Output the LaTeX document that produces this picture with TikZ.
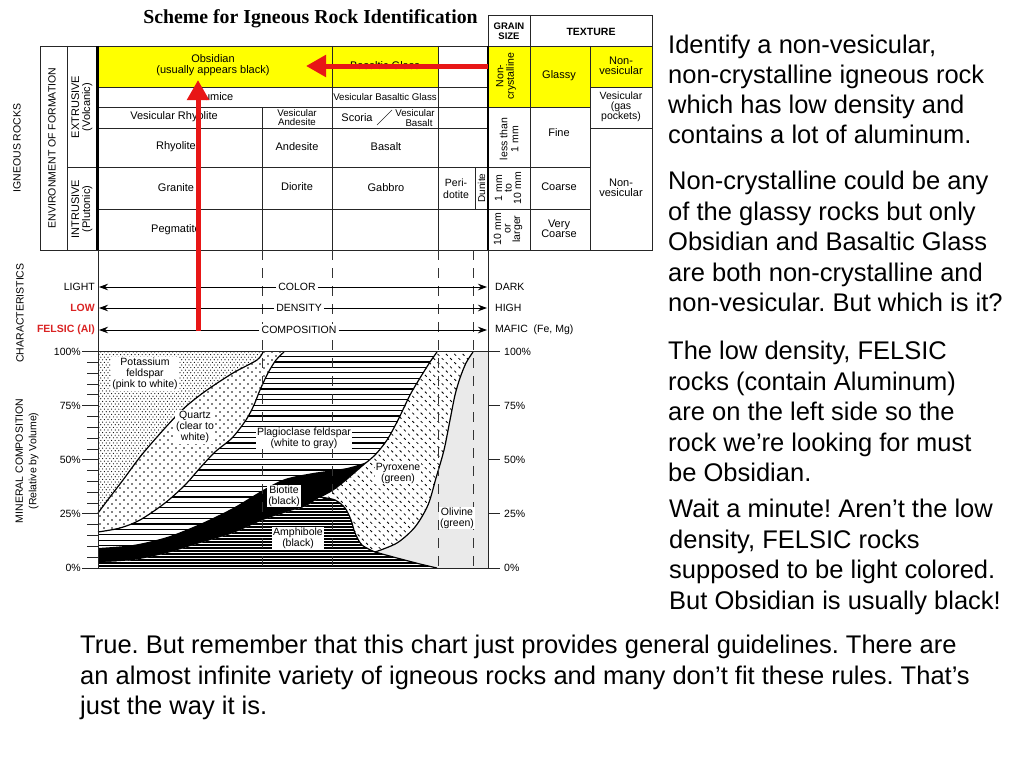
\documentclass[tikz,border=0pt]{standalone}
\usepackage{fontspec}
\setmainfont{Liberation Sans}
\newfontfamily\titlefont{Liberation Serif}
\usetikzlibrary{arrows.meta,patterns}

\definecolor{hlyellow}{RGB}{255,255,0}
\definecolor{arrred}{RGB}{232,22,22}
\definecolor{txtred}{RGB}{218,35,35}
\definecolor{olgray}{RGB}{234,234,234}

\pgfdeclarepatternformonly{kdots}{\pgfqpoint{-1pt}{-1pt}}{\pgfqpoint{4.6pt}{6.2pt}}{\pgfqpoint{3.6pt}{5.2pt}}{%
  \pgfpathcircle{\pgfqpoint{0pt}{0pt}}{0.6pt}%
  \pgfpathcircle{\pgfqpoint{1.8pt}{2.6pt}}{0.6pt}%
  \pgfusepath{fill}}
\pgfdeclarepatternformonly{qdots}{\pgfqpoint{-1pt}{-1pt}}{\pgfqpoint{9pt}{9pt}}{\pgfqpoint{8pt}{8pt}}{%
  \pgfpathcircle{\pgfqpoint{0pt}{0pt}}{0.8pt}%
  \pgfpathcircle{\pgfqpoint{4pt}{4pt}}{0.8pt}%
  \pgfusepath{fill}}
\pgfdeclarepatternformonly{plaglines}{\pgfqpoint{-0.5pt}{-0.5pt}}{\pgfqpoint{4.5pt}{5.9pt}}{\pgfqpoint{4pt}{5.4pt}}{%
  \pgfsetlinewidth{1.3pt}%
  \pgfpathmoveto{\pgfqpoint{-0.5pt}{1pt}}\pgfpathlineto{\pgfqpoint{4.5pt}{1pt}}%
  \pgfusepath{stroke}}
\pgfdeclarepatternformonly{amphlines}{\pgfqpoint{-0.5pt}{-0.5pt}}{\pgfqpoint{4.5pt}{3.5pt}}{\pgfqpoint{4pt}{3pt}}{%
  \pgfsetlinewidth{1.1pt}%
  \pgfpathmoveto{\pgfqpoint{-0.5pt}{1pt}}\pgfpathlineto{\pgfqpoint{4.5pt}{1pt}}%
  \pgfusepath{stroke}}
\pgfdeclarepatternformonly{pyrticks}{\pgfqpoint{-0.5pt}{-0.5pt}}{\pgfqpoint{9pt}{9pt}}{\pgfqpoint{8.4pt}{8.4pt}}{%
  \pgfsetlinewidth{0.8pt}%
  \pgfpathmoveto{\pgfqpoint{0.7pt}{2.5pt}}\pgfpathlineto{\pgfqpoint{2.5pt}{0.7pt}}%
  \pgfpathmoveto{\pgfqpoint{4.9pt}{6.7pt}}\pgfpathlineto{\pgfqpoint{6.7pt}{4.9pt}}%
  \pgfusepath{stroke}}

\begin{document}
\frenchspacing
\begin{tikzpicture}[x=1pt,y=-1pt,
  tline/.style={draw=black!85, line width=0.8pt},
  thickline/.style={draw=black, line width=2.6pt},
  cell/.style={font=\fontsize{11}{10.5}\selectfont, align=center, inner sep=0pt},
  smallcell/.style={font=\fontsize{9.7}{9.5}\selectfont, align=center, inner sep=0pt},
  hdr/.style={font=\bfseries\fontsize{9.5}{10}\selectfont, align=center, inner sep=0pt},
  sidelbl/.style={font=\fontsize{10.5}{11.5}\selectfont, align=center, inner sep=0pt, rotate=90},
  chl/.style={font=\fontsize{10.5}{11}\selectfont, fill=white, inner sep=2pt},
  chside/.style={font=\fontsize{10.5}{11}\selectfont, inner sep=0pt},
  redlbl/.style={font=\bfseries\fontsize{10.5}{11}\selectfont, text=txtred, inner sep=0pt},
  charr/.style={draw=black, line width=0.8pt, -{Stealth[length=9pt,width=6.5pt]}},
  redarr/.style={draw=arrred, line width=5pt, -{Triangle[length=20pt,width=21pt]}},
  dashl/.style={draw=black!80, line width=0.7pt, dash pattern=on 10pt off 8pt},
  bnd/.style={draw=black, line width=1.2pt},
  minlbl/.style={fill=white, inner sep=1pt, font=\fontsize{10.5}{11}\selectfont, align=center},
  pct/.style={font=\fontsize{10.5}{11}\selectfont, inner sep=0pt},
  body/.style={font=\fontsize{25.5}{30}\selectfont, anchor=base west, inner sep=0pt}]

\useasboundingbox (0,0) rectangle (1024,768);
\fill[white] (0,0) rectangle (1024,768);

% ---------- title ----------
\node[font={\titlefont\bfseries\fontsize{19.8}{22}\selectfont}, anchor=base, inner sep=0pt] (title) at (310.5,23.5) {Scheme for Igneous Rock Identification};

% ---------- table fills ----------
\fill[hlyellow] (97,46) rectangle (438,87);
\fill[hlyellow] (488,46) rectangle (590,107);
\fill[hlyellow] (590,46) rectangle (652,87);

% ---------- table lines ----------
\draw[tline] (40,46) rectangle (652,250);
\draw[tline] (488,15) rectangle (652,46);
\draw[tline] (530,15) -- (530,250);
\draw[tline] (590,46) -- (590,250);
\draw[tline] (67,46) -- (67,250);
\draw[tline] (67,167) -- (97,167);
\foreach \yy in {87,107,128,167,209} \draw[tline] (97,\yy) -- (488,\yy);
\foreach \yy in {107,167,209} \draw[tline] (488,\yy) -- (590,\yy);
\foreach \yy in {87,128} \draw[tline] (590,\yy) -- (652,\yy);
\draw[tline] (262,107) -- (262,250);
\draw[tline] (332,46) -- (332,250);
\draw[tline] (438,46) -- (438,250);
\draw[tline] (475,167) -- (475,209);
\draw[tline, line width=0.6pt] (377,125) -- (392,110);

% ---------- left labels ----------
\node[sidelbl] (igr) at (17,148) {IGNEOUS ROCKS};
\node[sidelbl] (env) at (52,148) {ENVIRONMENT OF FORMATION};
\node[sidelbl, font=\fontsize{11}{11}\selectfont] (ext) at (82,107) {EXTRUSIVE\\(Volcanic)};
\node[sidelbl, font=\fontsize{11}{11}\selectfont] (intr) at (82,209) {INTRUSIVE\\(Plutonic)};

% ---------- table cells ----------
\node[cell] (obs) at (213,65) {Obsidian\\(usually appears black)};
\node[cell] (bgl) at (385,66) {Basaltic Glass};
\node[cell] (pum) at (215,97) {Pumice};
\node[smallcell] (vbg) at (385,97) {Vesicular Basaltic Glass};
\node[cell] (vrh) at (174,117) {Vesicular Rhyolite};
\node[smallcell] (van) at (297,117.5) {Vesicular\\Andesite};
\node[cell] (sco) at (357,118) {Scoria};
\node[smallcell] (vba) at (415,118) {Vesicular\\\hspace*{8pt}Basalt};
\node[cell] (rhy) at (176,147) {Rhyolite};
\node[cell] (and) at (297,147) {Andesite};
\node[cell] (bas) at (386,147) {Basalt};
\node[cell] (gra) at (176,188) {Granite};
\node[cell] (dio) at (297,187) {Diorite};
\node[cell] (gab) at (386,188) {Gabbro};
\node[cell, font=\fontsize{10.5}{12}\selectfont] (per) at (456,189) {Peri-\\dotite};
\node[cell, rotate=90, font=\fontsize{10}{10}\selectfont] (dun) at (481.5,188) {Dunite};
\node[cell] (peg) at (176,230) {Pegmatite};

\node[hdr] (gsz) at (509,31) {GRAIN\\SIZE};
\node[hdr, font=\bfseries\fontsize{10.5}{10}\selectfont] (tex) at (591,31.5) {TEXTURE};
\node[cell, rotate=90, font=\fontsize{10.5}{10.5}\selectfont] (ncr) at (506,76) {Non-\\crystalline};
\node[cell] (gla) at (559,76) {Glassy};
\node[cell] (nv1) at (621,66) {Non-\\vesicular};
\node[cell, font=\fontsize{10.5}{10}\selectfont] (ves) at (621,107) {Vesicular\\(gas\\pockets)};
\node[cell, rotate=90, font=\fontsize{10.5}{11}\selectfont] (lt1) at (509,139) {less than\\1 mm};
\node[cell] (fin) at (559,133) {Fine};
\node[cell, rotate=90, font=\fontsize{10.5}{9.5}\selectfont] (g110) at (508,188) {1 mm\\to\\10 mm};
\node[cell] (coa) at (559,187) {Coarse};
\node[cell] (nv2) at (621,188) {Non-\\vesicular};
\node[cell, rotate=90, font=\fontsize{10.5}{9.5}\selectfont] (g10) at (508,229) {10 mm\\or\\larger};
\node[cell] (vco) at (559,229) {Very\\Coarse};

% ---------- mineral composition chart ----------
% plagioclase base
\fill[white] (98,351.5) rectangle (488,568);
\fill[pattern=plaglines] (98,351.5) rectangle (488,568);
% amphibole
\path[preaction={fill=white}, pattern=amphlines]
  plot[smooth] coordinates {(98,562) (133,560) (167,553) (200,543) (233,533) (263,520) (290,511) (306,506) (320,497)}
  -- plot[smooth] coordinates {(320,497) (335,500) (345,508) (351,520) (355,533) (362,545) (375,552)}
  -- plot[smooth] coordinates {(375,552) (397,558) (420,564) (437,568)}
  -- (98,568) -- cycle;
% biotite
\fill[black]
  plot[smooth] coordinates {(98,548) (133,545) (167,537) (200,524) (233,508) (263,490) (285,479) (313,473) (347,468) (370,461)}
  -- (326,500)
  -- plot[smooth] coordinates {(320,497) (306,506) (290,511) (263,520) (233,533) (200,543) (167,553) (133,560) (98,562)}
  -- cycle;
% olivine
\fill[olgray] (473,351.5) -- (488,351.5) -- (488,568) -- (437,568)
  -- plot[smooth] coordinates {(437,568) (420,564) (397,558) (375,552)}
  -- plot[smooth] coordinates {(375,552) (397,543) (415,527) (428,505) (436,478) (444,450) (450,420) (455,395) (460,378) (466,363) (473,352)}
  -- cycle;
% pyroxene
\path[preaction={fill=white}, pattern=pyrticks] (437,351.5) -- (473,351.5)
  -- plot[smooth] coordinates {(473,352) (466,363) (460,378) (455,395) (450,420) (444,450) (436,478) (428,505) (415,527) (397,543) (375,552)}
  -- plot[smooth] coordinates {(375,552) (362,545) (355,533) (351,520) (345,508) (335,500) (320,497)}
  -- plot[smooth] coordinates {(320,497) (333,490) (347,479) (362,466) (375,455) (387,440) (398,420) (410,395) (420,378) (430,362) (437,352)}
  -- cycle;
% quartz
\path[preaction={fill=white}, pattern=qdots] (98,351.5) -- (284,351.5)
  -- plot[smooth] coordinates {(284,352) (276,360) (268,373) (260,390) (254,405) (246,420) (232,438) (215,452) (200,468) (185,485) (165,503) (140,520) (120,528) (98,532)}
  -- cycle;
% potassium feldspar
\path[preaction={fill=white}, pattern=kdots] (98,351.5) -- (263,351.5)
  -- plot[smooth] coordinates {(263,352) (257,360) (233,373) (207,390) (190,403) (177,415) (157,437) (140,457) (123,480) (110,497) (98,513)}
  -- cycle;

% boundaries
\draw[bnd] plot[smooth] coordinates {(263,352) (257,360) (233,373) (207,390) (190,403) (177,415) (157,437) (140,457) (123,480) (110,497) (98,513)};
\draw[bnd] plot[smooth] coordinates {(284,352) (276,360) (268,373) (260,390) (254,405) (246,420) (232,438) (215,452) (200,468) (185,485) (165,503) (140,520) (120,528) (98,532)};
\draw[bnd] plot[smooth] coordinates {(473,352) (466,363) (460,378) (455,395) (450,420) (444,450) (436,478) (428,505) (415,527) (397,543) (375,552)};
\draw[bnd] plot[smooth] coordinates {(375,552) (362,545) (355,533) (351,520) (345,508) (335,500) (320,497)};
\draw[bnd] plot[smooth] coordinates {(320,497) (333,490) (347,479) (362,466) (375,455) (387,440) (398,420) (410,395) (420,378) (430,362) (437,352)};
\draw[bnd] plot[smooth] coordinates {(375,552) (397,558) (420,564) (437,568)};

% dashed guide lines
\foreach \xx in {262,332,438,473} \draw[dashl] (\xx,250) -- (\xx,568);

% frame lines
\draw[thickline] (97.5,46) -- (97.5,250);
\draw[thickline] (488,46) -- (488,250);
\draw[tline] (98,250) -- (98,568);
\draw[tline] (488,250) -- (488,568);
\draw[tline] (98,351.5) -- (488,351.5);
\draw[tline] (98,568) -- (488,568);

% ticks
\foreach \k in {0,...,20} \draw[tline] (87,{351.5+\k*10.825}) -- (98,{351.5+\k*10.825});
\foreach \k/\p in {0/100,1/75,2/50,3/25,4/0} {
  \draw[tline] (82,{351.5+\k*54.125}) -- (98,{351.5+\k*54.125});
  \draw[tline] (488,{351.5+\k*54.125}) -- (500,{351.5+\k*54.125});
  \node[pct, anchor=east] (pl\k) at (81,{351.5+\k*54.125}) {\p\%};
  \node[pct, anchor=west] (pr\k) at (504,{351.5+\k*54.125}) {\p\%};
}

% mineral labels
\node[minlbl] (kfs) at (145,374) {Potassium\\feldspar\\(pink to white)};
\node[minlbl] (qtz) at (195,427) {Quartz\\(clear to\\white)};
\node[minlbl] (plg) at (304,438) {Plagioclase feldspar\\(white to gray)};
\node[minlbl] (bio) at (284,496) {Biotite\\(black)};
\node[minlbl] (amp) at (298,538) {Amphibole\\(black)};
\node[minlbl] (pyr) at (398,473) {Pyroxene\\(green)};
\node[minlbl] (oli) at (457,518) {Olivine\\(green)};

\node[sidelbl] (chr) at (20,313) {CHARACTERISTICS};
\node[sidelbl, font=\fontsize{10.5}{13.5}\selectfont] (mcl) at (27,461) {MINERAL COMPOSITION\\(Relative by Volume)};

% ---------- characteristics ----------
\node[chl] (ccol) at (297,287) {COLOR};
\node[chl] (cden) at (299,308) {DENSITY};
\node[chl] (ccom) at (299,330) {COMPOSITION};
\coordinate (ccolL) at (99,287); \coordinate (ccolR) at (487,287);
\coordinate (cdenL) at (99,308); \coordinate (cdenR) at (487,308);
\coordinate (ccomL) at (99,330); \coordinate (ccomR) at (487,330);
\draw[charr] (ccol.west) -- (ccolL);
\draw[charr] (ccol.east) -- (ccolR);
\draw[charr] (cden.west) -- (cdenL);
\draw[charr] (cden.east) -- (cdenR);
\draw[charr] (ccom.west) -- (ccomL);
\draw[charr] (ccom.east) -- (ccomR);
\node[chside, anchor=east] (light) at (95,287) {LIGHT};
\node[redlbl, anchor=east] (low) at (95,308) {LOW};
\node[redlbl, anchor=east] (fel) at (95,330) {FELSIC (Al)};
\node[chside, anchor=west] (dark) at (495,287) {DARK};
\node[chside, anchor=west] (high) at (495,308) {HIGH};
\node[chside, anchor=west] (maf) at (495,330) {MAFIC\ \ (Fe, Mg)};

% ---------- red arrows ----------
\coordinate (va0) at (198,331);
\coordinate (va1) at (198,80);
\coordinate (ha0) at (488,66);
\coordinate (ha1) at (306,66);
\draw[redarr] (va0) -- (va1);
\draw[redarr] (ha0) -- (ha1);

% ---------- right-hand text ----------
\foreach \t [count=\i] in {{Identify a non-vesicular,},{non-crystalline igneous rock},{which has low density and},{contains a lot of aluminum.}}
  \node[body] (pa\i) at (668,{53.5+30*(\i-1)}) {\t};
\foreach \t [count=\i] in {{Non-crystalline could be any},{of the glassy rocks but only},{Obsidian and Basaltic Glass},{are both non-crystalline and},{non-vesicular. But which is it?}}
  \node[body] (pb\i) at (668,{189.5+30.5*(\i-1)}) {\t};
\foreach \t [count=\i] in {{The low density, FELSIC},{rocks (contain Aluminum)},{are on the left side so the},{rock we’re looking for must},{be Obsidian.}}
  \node[body] (pc\i) at (668,{359.5+30.5*(\i-1)}) {\t};
\foreach \t [count=\i] in {{Wait a minute! Aren’t the low},{density, FELSIC rocks},{supposed to be light colored.},{But Obsidian is usually black!}}
  \node[body] (pd\i) at (669,{517.5+30.5*(\i-1)}) {\t};
\foreach \t [count=\i] in {{True. But remember that this chart just provides general guidelines. There are},{an almost infinite variety of igneous rocks and many don’t fit these rules. That’s},{just the way it is.}}
  \node[body] (pe\i) at (80,{653.5+30.5*(\i-1)}) {\t};

\end{tikzpicture}
\end{document}
